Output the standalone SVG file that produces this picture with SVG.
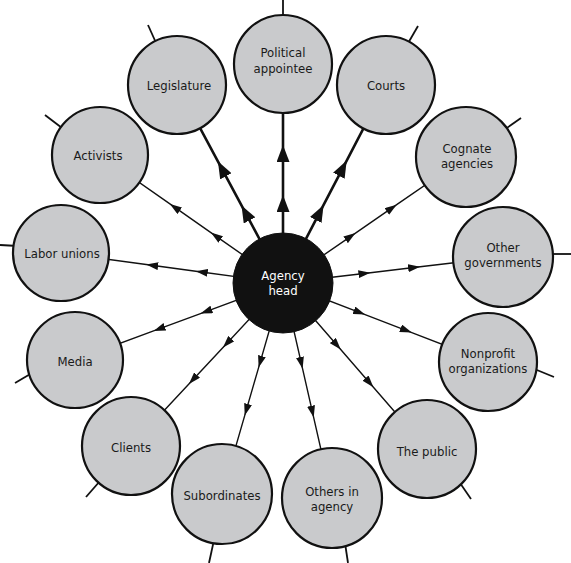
<svg xmlns="http://www.w3.org/2000/svg" width="571" height="563" viewBox="0 0 571 563">
<style>
  .bg { fill: #ffffff; }
  .node circle { fill: #c9cacc; stroke: #111111; stroke-width: 2.2; }
  .node text, .hub text { font-family: "DejaVu Sans Condensed", "DejaVu Sans", sans-serif; font-stretch: condensed; font-size: 13px; text-anchor: middle; fill: #1a1a1a; }
  .hub circle { fill: #111111; stroke: #111111; stroke-width: 1; }
  .hub text { fill: #ffffff; }
  .thin { fill: none; stroke: #111111; stroke-width: 1.4; marker-mid: url(#ah); }
  .thick { fill: none; stroke: #111111; stroke-width: 2.6; marker-mid: url(#ahb); }
  .tail { stroke: #111111; stroke-width: 1.8; fill: none; }
</style>
<defs>
  <marker id="ah" viewBox="0 0 12 8" refX="12" refY="4" markerWidth="12" markerHeight="8" orient="auto" markerUnits="userSpaceOnUse">
    <path d="M0,0 L12,4 L0,8 z" fill="#111111"/>
  </marker>
  <marker id="ahb" viewBox="0 0 17 13" refX="17" refY="6.5" markerWidth="17" markerHeight="13" orient="auto" markerUnits="userSpaceOnUse">
    <path d="M0,0 L17,6.5 L0,13 z" fill="#111111"/>
  </marker>
</defs>
<rect class="bg" x="0" y="0" width="571" height="563"/>
<g id="connectors">
  <path class="thick" d="M283,283 L283,195 L283,145 L283,64"/>
  <path class="thick" d="M283,283 L323.6,204.9 L346.7,160.6 L386,85"/>
  <path class="thick" d="M283,283 L241.5,205.4 L217.9,161.3 L177,85"/>
  <path class="thin" d="M283,283 L355.5,233.1 L396.7,204.7 L466,157"/>
  <path class="thin" d="M283,283 L370.4,272.7 L420.1,266.8 L503,257"/>
  <path class="thin" d="M283,283 L365.1,314.6 L411.8,332.6 L488,362"/>
  <path class="thin" d="M283,283 L340.7,349.5 L373.4,387.2 L427,449"/>
  <path class="thin" d="M283,283 L302.6,368.8 L313.7,417.6 L332,498"/>
  <path class="thin" d="M283,283 L258.6,367.6 L244.7,415.6 L222,494"/>
  <path class="thin" d="M283,283 L223,347.4 L188.9,383.9 L131,446"/>
  <path class="thin" d="M283,283 L200.5,313.6 L153.6,330.9 L75,360"/>
  <path class="thin" d="M283,283 L195.8,271.2 L146.2,264.5 L61,253"/>
  <path class="thin" d="M283,283 L210.9,232.6 L169.9,203.9 L100,155"/>
  <line class="tail" x1="283" y1="20" x2="283" y2="0"/>
  <line class="tail" x1="407" y1="45" x2="418" y2="26"/>
  <line class="tail" x1="504" y1="130" x2="521" y2="118"/>
  <line class="tail" x1="548" y1="254" x2="571" y2="254"/>
  <line class="tail" x1="532" y1="368" x2="554" y2="377"/>
  <line class="tail" x1="460" y1="483" x2="471" y2="499"/>
  <line class="tail" x1="345" y1="543" x2="348" y2="563"/>
  <line class="tail" x1="214" y1="540" x2="209" y2="563"/>
  <line class="tail" x1="100" y1="481" x2="86" y2="497"/>
  <line class="tail" x1="32" y1="373" x2="15" y2="383"/>
  <line class="tail" x1="0" y1="245" x2="18" y2="246"/>
  <line class="tail" x1="45" y1="115" x2="62" y2="128"/>
  <line class="tail" x1="148" y1="25" x2="157" y2="45"/>
</g>
<g id="node-agency-head" class="hub">
  <circle cx="283" cy="283" r="50"/>
  <text x="283" y="280">Agency</text>
  <text x="283" y="295">head</text>
</g>
<g id="node-political-appointee" class="node">
  <circle cx="283" cy="64" r="49"/>
  <text x="283" y="57">Political</text>
  <text x="283" y="73">appointee</text>
</g>
<g id="node-courts" class="node">
  <circle cx="386" cy="85" r="49"/>
  <text x="386" y="90">Courts</text>
</g>
<g id="node-cognate-agencies" class="node">
  <circle cx="466" cy="157" r="50"/>
  <text x="467" y="153">Cognate</text>
  <text x="467" y="168">agencies</text>
</g>
<g id="node-other-governments" class="node">
  <circle cx="503" cy="257" r="50"/>
  <text x="503" y="252">Other</text>
  <text x="503" y="267">governments</text>
</g>
<g id="node-nonprofit-organizations" class="node">
  <circle cx="488" cy="362" r="49"/>
  <text x="488" y="358">Nonprofit</text>
  <text x="488" y="373">organizations</text>
</g>
<g id="node-the-public" class="node">
  <circle cx="427" cy="449" r="49"/>
  <text x="427" y="456">The public</text>
</g>
<g id="node-others-in-agency" class="node">
  <circle cx="332" cy="498" r="50"/>
  <text x="332" y="496">Others in</text>
  <text x="332" y="511">agency</text>
</g>
<g id="node-subordinates" class="node">
  <circle cx="222" cy="494" r="50"/>
  <text x="222" y="500">Subordinates</text>
</g>
<g id="node-clients" class="node">
  <circle cx="131" cy="446" r="49"/>
  <text x="131" y="452">Clients</text>
</g>
<g id="node-media" class="node">
  <circle cx="75" cy="360" r="48"/>
  <text x="75" y="366">Media</text>
</g>
<g id="node-labor-unions" class="node">
  <circle cx="61" cy="253" r="48"/>
  <text x="62" y="258">Labor unions</text>
</g>
<g id="node-activists" class="node">
  <circle cx="100" cy="155" r="48"/>
  <text x="98" y="160">Activists</text>
</g>
<g id="node-legislature" class="node">
  <circle cx="177" cy="85" r="49"/>
  <text x="179" y="90">Legislature</text>
</g>
</svg>
